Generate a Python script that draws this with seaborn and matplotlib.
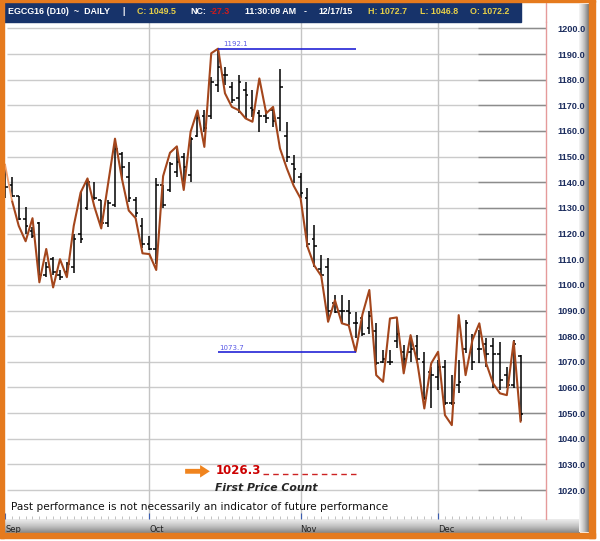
import numpy as np
import pandas as pd
import matplotlib
matplotlib.use("Agg")
import matplotlib.pyplot as plt
import matplotlib.patches as mpatches
import seaborn as sns

# Trading days Sep 1 - Dec 17 2015 (Labor Day and Thanksgiving closed)
days = pd.bdate_range("2015-09-01", "2015-12-17")
days = days[~days.isin(pd.to_datetime(["2015-09-07", "2015-11-26"]))]

opens = [1140, 1139, 1134.5, 1125.5, 1121, 1124, 1104, 1110, 1104, 1105,
         1107, 1120, 1130, 1134, 1133, 1124, 1131, 1151, 1142, 1133,
         1123, 1116, 1114, 1139, 1137, 1144, 1150, 1143, 1158, 1166,
         1166, 1178, 1182, 1177, 1173, 1176, 1169, 1167, 1166, 1168,
         1165, 1158, 1147, 1142, 1134, 1118, 1106, 1107, 1093, 1090,
         1090, 1085, 1087, 1083, 1082, 1070, 1070, 1078, 1074, 1074,
         1076, 1070, 1066, 1064, 1068, 1054, 1061, 1075, 1075, 1075,
         1077, 1076, 1073, 1065, 1061, 1072.2]
highs = [1147, 1142, 1134.6, 1130.4, 1122.6, 1124.6, 1109, 1111, 1105.8, 1109,
         1120, 1136.3, 1141, 1140, 1133, 1133, 1156, 1152, 1148, 1134.4,
         1126, 1119, 1141.5, 1139, 1148, 1153, 1151.4, 1157.8, 1166.2, 1168,
         1181, 1192.1, 1185, 1179.2, 1181.8, 1179.2, 1176, 1168, 1168, 1169,
         1184, 1163.5, 1150.6, 1143.5, 1137.6, 1123.3, 1111.6, 1110.5, 1096, 1096,
         1094, 1089.5, 1088, 1090, 1085, 1074.6, 1074.6, 1087, 1076.5, 1080,
         1080.4, 1073.9, 1068, 1070.7, 1070.7, 1064.8, 1070.7, 1086.3, 1081, 1082.4,
         1079.1, 1079.1, 1077.8, 1068, 1078.5, 1072.7]
lows = [1134, 1134.3, 1125.3, 1120, 1118.1, 1103.5, 1103, 1104, 1102, 1103.8,
        1104.6, 1116.2, 1129, 1133, 1122.6, 1122.6, 1130.4, 1141, 1132.4, 1126.6,
        1114.5, 1113.5, 1108, 1130, 1136.3, 1142, 1140.2, 1140.2, 1157.8, 1159.7,
        1164.5, 1175.3, 1178, 1171, 1167.2, 1165, 1165.5, 1159.7, 1163, 1161.6,
        1160, 1148, 1139.6, 1133.7, 1114.9, 1107, 1103.8, 1086, 1089, 1085,
        1084.3, 1079.1, 1080, 1081, 1068.7, 1069.4, 1068.7, 1075.2, 1066, 1070,
        1069.4, 1055, 1051.8, 1059, 1053, 1053, 1057.7, 1073.3, 1066.8, 1069.4,
        1068, 1059.6, 1059, 1059.6, 1059.8, 1046.8]
closes = [1138, 1134.5, 1125.5, 1123, 1119, 1104, 1107, 1105, 1103, 1108,
          1118, 1118, 1140, 1134, 1124, 1132, 1153, 1146, 1134, 1128,
          1116, 1114, 1139, 1131, 1147, 1148, 1146, 1157, 1165, 1161,
          1179, 1185, 1182, 1172, 1179, 1174, 1168, 1166, 1165, 1164,
          1177, 1150, 1145, 1136, 1116, 1115, 1104, 1090, 1089.5, 1090,
          1089, 1085, 1081, 1088, 1069.5, 1071, 1070, 1081, 1071, 1075,
          1071, 1056, 1065, 1068, 1054, 1054, 1062, 1085, 1070, 1075,
          1073, 1073, 1063, 1061, 1077, 1049.5]
swing = [1147, 1133, 1123, 1117, 1126, 1101, 1114, 1099, 1110, 1103,
         1123, 1136, 1141.5, 1130.5, 1122, 1139.5, 1157, 1141.5, 1129, 1126,
         1112.3, 1112, 1105.8, 1142.4, 1151.5, 1154, 1137, 1159.7, 1168, 1153.8,
         1190.3, 1192.1, 1174.7, 1169.4, 1168.1, 1164.9, 1163.6, 1180.5, 1166.9, 1169.4,
         1153.2, 1145.4, 1138.6, 1133.7, 1114.9, 1107.5, 1103.5, 1085.6, 1094, 1085,
         1084.2, 1073.9, 1088.5, 1098, 1064.8, 1062.2, 1086.9, 1087.3, 1065.5, 1080.4,
         1069.4, 1051.8, 1069.4, 1073.9, 1049.2, 1045.3, 1088.2, 1064.8, 1078.5, 1085,
         1069.4, 1061.6, 1057.7, 1057, 1077.9, 1046.6]

high_level = 1192.1
low_level = 1073.7
count_level = 1026.3
month_labels = ["Sep", "Oct", "Nov", "Dec"]
y_ticks = list(range(1020, 1201, 10))

df = pd.DataFrame({"date": days, "open": opens, "high": highs, "low": lows,
                   "close": closes, "swing": swing})
df["i"] = np.arange(len(df))
month_pos = [int(df.index[df["date"].dt.month == m][0]) for m in (9, 10, 11, 12)]

sns.set_style("white")
plt.rcParams["font.family"] = ["DejaVu Sans"]

W, H = 600, 541
fig = plt.figure(figsize=(W / 100, H / 100), dpi=100)
fig.patch.set_facecolor("white")


def fx(x):
    return x / W


def fy(y):
    return 1 - y / H


def px_rect(x0, y0, x1, y1, z=1, **kw):
    fig.patches.append(mpatches.Rectangle((fx(x0), fy(y1)), (x1 - x0) / W, (y1 - y0) / H,
                                          transform=fig.transFigure, zorder=z, **kw))


ax = fig.add_axes([fx(5), fy(519), fx(546) - fx(5), fy(22) - fy(519)])
xmin, xmax = 0.29, 78.7
ax.set_xlim(xmin, xmax)
ax.set_ylim(1008.7, 1202.5)

# grid
for v in y_ticks:
    ax.hlines(v, xmin, xmax, color="#cbcbcb", lw=1, zorder=0)
    ax.hlines(v, 68.8, xmax, color="#8c8c8c", lw=1, zorder=0)
for p in month_pos[1:]:
    ax.axvline(p, color="#c4c4c4", lw=1, zorder=0)

# OHLC bars
ax.vlines(df["i"], df["low"], df["high"], color="black", lw=1.1, zorder=3)
ax.hlines(df["open"], df["i"] - 0.4, df["i"], color="black", lw=1.1, zorder=3)
ax.hlines(df["close"], df["i"], df["i"] + 0.4, color="black", lw=1.1, zorder=3)

# swing line (first segment is faded in the original)
sns.lineplot(data=df.iloc[1:], x="i", y="swing", color="#a4461c", lw=1.5, ax=ax, zorder=4)
sns.lineplot(data=df.iloc[:2], x="i", y="swing", color="#f0a070", lw=1.3, ax=ax, zorder=4)

# levels
ax.hlines([high_level, low_level], 31, 51, color="#2323d6", lw=1.2, zorder=5)
ax.text(31.7, high_level + 0.6, f"{high_level}", color="#5a5ae6", fontsize=5, va="bottom")
ax.text(31.2, low_level + 0.6, f"{low_level}", color="#5a5ae6", fontsize=5, va="bottom")

# first price count
ax.annotate("", xy=(30.2, 1027.3), xytext=(25.8, 1027.3),
            arrowprops=dict(arrowstyle="simple,head_width=0.9,head_length=0.7,tail_width=0.35",
                            color="#f0841e", lw=0))
ax.text(30.6, 1027.6, f"{count_level}", color="#cc0000", fontsize=8.5,
        fontweight="bold", va="center")
ax.hlines(count_level, 37.6, 51, color="#cc2222", lw=1, linestyles=(0, (4, 3)))
ax.text(30.6, 1020.6, "First Price Count", fontsize=7.8, fontweight="bold",
        fontstyle="italic", va="center")
ax.text(0.9, 1013.2, "Past performance is not necessarily an indicator of future performance",
        fontsize=7.6, va="center", color="#111111")

# axes styling
ax.set_xlabel("")
ax.set_ylabel("")
for s in ["left", "top", "bottom"]:
    ax.spines[s].set_visible(False)
ax.spines["right"].set_color("#e59a9a")
ax.spines["right"].set_linewidth(1)
ax.yaxis.tick_right()
ax.set_yticks(y_ticks)
ax.set_yticklabels([f"{v:.1f}" for v in y_ticks], fontsize=6.6, fontweight="bold",
                   color="#1c2d5e", family="Liberation Sans")
ax.tick_params(axis="y", length=0, pad=8)
ax.set_xticks(month_pos)
ax.set_xticklabels(month_labels, fontsize=6, color="#222222", ha="left")
ax.set_xticks(df["i"], minor=True)
ax.tick_params(axis="x", which="major", direction="in", length=4, color="#3a5cb0",
               pad=4, bottom=True)
ax.tick_params(axis="x", which="minor", direction="in", length=2, color="#b8b8b8",
               bottom=True)

# bottom gray band behind the month labels
band = fig.add_axes([fx(5), fy(533), fx(580) - fx(5), fy(519) - fy(533)], zorder=-1)
band.imshow(np.linspace(0.15, 0.55, 20).reshape(-1, 1), aspect="auto", cmap="Greys",
            vmin=0, vmax=1, extent=[0, 1, 0, 1])
band.axis("off")

# right shadow
shadow = fig.add_axes([fx(579), fy(532), fx(589) - fx(579), fy(4) - fy(532)], zorder=-1)
shadow.imshow(np.linspace(0.1, 0.6, 20).reshape(1, -1), aspect="auto", cmap="Greys",
              vmin=0, vmax=1, extent=[0, 1, 0, 1])
shadow.axis("off")

# header bar
px_rect(0, 0, 521, 22, z=2, color="#17336a")
hdr = [("EGCG16 (D10)  ~  DAILY", 8, "white"), ("|", 122, "white"),
       ("C: 1049.5", 137, "#e6cf48"), ("NC:", 190, "white"), ("-27.3", 210, "#d01c1c"),
       ("11:30:09 AM", 245, "white"), ("-", 304, "white"), ("12/17/15", 318, "white"),
       ("H: 1072.7", 368, "#e6cf48"), ("L: 1046.8", 420, "#e6cf48"),
       ("O: 1072.2", 470, "#e6cf48")]
for txt, x, c in hdr:
    fig.text(fx(x), fy(12), txt, color=c, fontsize=6.4, fontweight="bold",
             family="Liberation Sans", va="center", zorder=3)

# red right edge line above axes
fig.lines.append(plt.Line2D([fx(546), fx(546)], [fy(22), fy(3)], transform=fig.transFigure,
                            color="#e59a9a", lw=1))

# orange frame
orange = "#e57a1e"
px_rect(0, 0, 4, 538, z=5, color=orange)
px_rect(0, 533, 595, 538, z=5, color=orange)
px_rect(589, 0, 595, 538, z=5, color=orange)
px_rect(0, 0, 595, 2, z=5, color=orange)

fig.savefig("out.png", dpi=100, facecolor="white")
